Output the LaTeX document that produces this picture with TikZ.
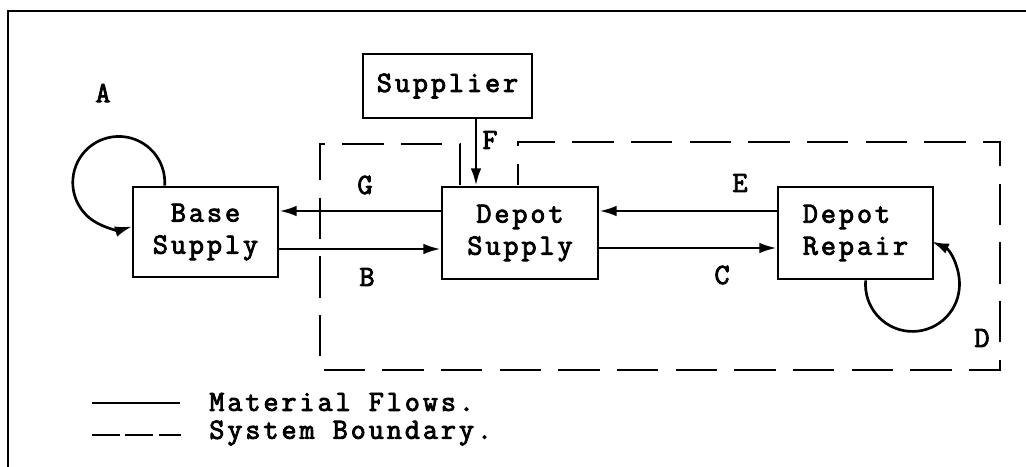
\documentclass[tikz,border=0pt]{standalone}
\usepackage{fontspec}
\newfontfamily\typfont[LetterSpace=10,FakeBold=3]{Latin Modern Mono}
\usetikzlibrary{arrows.meta}
\begin{document}
\begin{tikzpicture}[x=0.75pt,y=-0.75pt,line width=2pt,
  txt/.style={font=\typfont\fontsize{22}{24}\selectfont},
  box/.style={draw,txt,inner sep=0pt,align=center},
  flow/.style={-{Latex[length=13pt,width=8pt]}},
  bound/.style={line width=2pt,dash pattern=on 31pt off 13pt},
  lab/.style={txt,inner sep=0pt}]
\useasboundingbox (0,0) rectangle (1026,467);
% outer frame
\draw (8,467) -- (8,11) -- (1026,11);
% boxes
\node[box,minimum width=108.75pt,minimum height=67.5pt] (BS) at (205.5,232) {Base\\Supply};
\node[box,minimum width=117pt,minimum height=69pt] (DS) at (520,233) {Depot\\Supply};
\node[box,minimum width=116.25pt,minimum height=69pt,align=left] (DR) at (855.5,233) {Depot\\Repair};
\node[box,minimum width=126.75pt,minimum height=48pt] (SU) at (447.5,86) {Supplier};
% system boundary
\coordinate (b1) at (460,185);
\coordinate (b2) at (518,185);
\draw[bound] (b1) -- (460,144) -- (320,144) -- (320,370) -- (1000,370) -- (1000,142) -- (518,142) -- (b2);
% flows
\draw[flow] (DS.west |- 0,211) -- (BS.east |- 0,211);
\draw[flow] (BS.east |- 0,249) -- (DS.west |- 0,249);
\draw[flow] (DR.west |- 0,211) -- (DS.east |- 0,211);
\draw[flow] (DS.east |- 0,248) -- (DR.west |- 0,248);
\draw[flow] (SU.south -| 476,0) -- (DS.north -| 476,0);
\draw[flow] (BS.north west) ++(33,0) arc[start angle=-4,end angle=287,radius=34.5pt];
\draw[flow] (DR.south west) ++(89,0) arc[start angle=175,end angle=426,radius=35.25pt];
% labels
\node[lab] (lA) at (103,93) {A};
\node[lab] (lG) at (365,185) {G};
\node[lab] (lB) at (367,277) {B};
\node[lab] (lF) at (490,140) {F};
\node[lab] (lE) at (740,183) {E};
\node[lab] (lC) at (722,275) {C};
\node[lab] (lD) at (982,338) {D};
% legend
\coordinate (m1) at (92,403);
\coordinate (m2) at (180,403);
\coordinate (s1) at (92,435);
\coordinate (s2) at (181,435);
\draw (m1) -- (m2);
\draw[dash pattern=on 21pt off 4pt] (s1) -- (s2);
\node[lab,anchor=west] (tm) at (208,402) {Material Flows.};
\node[lab,anchor=west] (ts) at (208,433) {System Boundary.};
\end{tikzpicture}
\end{document}
